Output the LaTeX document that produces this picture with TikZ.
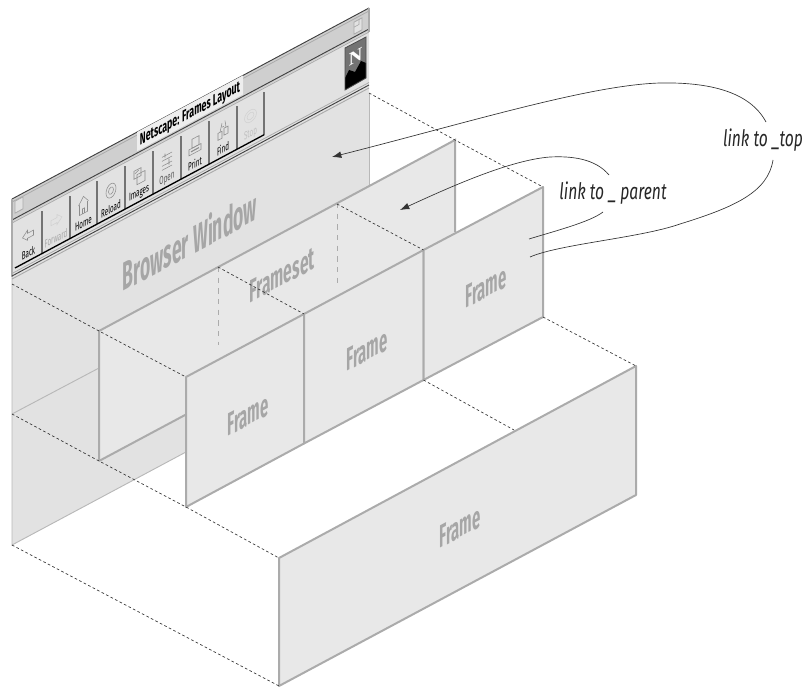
\documentclass[tikz,border=0pt]{standalone}
\usepackage{fontspec}
\usetikzlibrary{arrows.meta}
\setmainfont{Fira Sans}
\newfontfamily\nfont{Liberation Serif}
\definecolor{winfill}{HTML}{E2E2E2}
\definecolor{panfill}{HTML}{E8E8E8}
\definecolor{edge}{HTML}{ABABAB}
\definecolor{lbl}{HTML}{A6A6A6}
\definecolor{stripe}{HTML}{CFCFCF}
\tikzset{
  skew/.style={yslant=0.535,transform shape,inner sep=0pt},
  skewscope/.style={cm={1,0.535,0,1,(0,0)}},
  panel/.style={fill=panfill,draw=edge,line width=1.5pt,line join=round},
  winedge/.style={draw=edge!85,line width=0.7pt},
  dotline/.style={draw=black!80,line width=0.5pt,dash pattern=on 2pt off 1.8pt},
  greydash/.style={draw=edge,line width=0.7pt,dash pattern=on 4pt off 4pt},
  framel/.style={skew,xscale=0.465,text=lbl,font=\bfseries\fontsize{24}{25}\selectfont},
  lnkl/.style={inner sep=0pt,xscale=0.69,transform shape,text=black!85,font=\itshape\fontsize{17}{18}\selectfont},
  curve/.style={draw=black!80,line width=0.5pt},
  arrowc/.style={curve,-{Latex[length=7pt,width=5pt]}},
  icon/.style={draw=black!45,line width=0.4pt,fill=none},
  iconl/.style={draw=black!18,line width=0.4pt,fill=none},
  btnl/.style={skew,xscale=0.55,font=\fontsize{8.5}{9}\selectfont},
  dbl/.style={draw=black!75,line width=0.7pt}
}
\begin{document}
\begin{tikzpicture}[x=0.75pt,y=-0.75pt]
\useasboundingbox (0,0) rectangle (806,688);
% browser window sheet
\fill[winfill] (12,199) -- (369,8) -- (369,354) -- (12,545) -- cycle;
\draw[winedge] (369,93) -- (369,186);
\draw[winedge] (12,277) -- (12,545) -- (186,452);
\draw[winedge] (12,414) -- (99,368);
% title bar
\fill[stripe] (12,199) -- (369,8) -- (369,31) -- (12,222) -- cycle;
\draw[dbl] (12,199) -- (369,8);
\draw[edge,line width=0.6pt] (12,202) -- (369,11);
\draw[dbl] (12,220) -- (369,29);
\draw[edge,line width=0.6pt] (12,223) -- (369,32);
\draw[edge,line width=1pt] (369,8) -- (369,32) (12,199) -- (12,277);
% title
\fill[winfill!60!white] (137,132.1) -- (243,75.4) -- (243,94.4) -- (137,151.1) -- cycle;
\node[skew,xscale=0.55,font=\bfseries\fontsize{12}{13}\selectfont,text=black] (title) at (190,114.5) {Netscape: Frames Layout};
% window gadgets
\begin{scope}[shift={(19,204)},skewscope]
\draw[edge,fill=winfill,line width=0.6pt] (-4,-5) rectangle (4,7);
\end{scope}
\begin{scope}[shift={(358,25)},skewscope]
\draw[edge,fill=winfill,line width=0.6pt] (-4,-5) rectangle (4,7);
\draw[edge,line width=0.5pt] (-4,0) -- (1,0) -- (1,-5);
\end{scope}
% content separator lines
\draw[edge,line width=0.6pt] (12,273.5) -- (369,82.5);
\draw[dbl] (12,276) -- (369,85);
\draw[edge,line width=0.7pt] (12,279) -- (369,88);
% toolbar
\foreach \xa/\xb/\txt/\tc/\kind in {15/42/Back/black/0,42/70/Forward/black!35/1,70/97/Home/black/2,97/125/Reload/black/3,125/153/Images/black/4,153/181/Open/black!65/5,181/209/Print/black/6,209/237/Find/black/7,237/264/Stop/black!25/8}{
  \pgfmathsetmacro{\yb}{268-0.535*(\xb-15)}
  \pgfmathsetmacro{\ya}{268-0.535*(\xa-15)}
  \pgfmathsetmacro{\xm}{(\xa+\xb)/2}
  \pgfmathsetmacro{\ym}{268-0.535*(\xm-15)}
  \draw[black!55,line width=0.8pt] (\xb,\yb) -- (\xb,\yb-43);
  \draw[black,line width=1pt] (\xa,\ya) -- (\xb,\yb);
  \node[btnl,text=\tc] (b\kind) at (\xm,\ym-8) {\txt};
  \begin{scope}[shift={(\xm,\ym-26)},skewscope]
    \ifcase\kind
      \draw[icon] (-6,0) -- (-1,-5) -- (-1,-2) -- (5,-2) -- (5,3) -- (-1,3) -- (-1,5) -- cycle;
    \or
      \draw[iconl] (6,0) -- (1,-5) -- (1,-2) -- (-5,-2) -- (-5,3) -- (1,3) -- (1,5) -- cycle;
    \or
      \draw[icon] (-5,-2) -- (0,-9) -- (5,-2) (-4,-2) -- (-4,8) -- (4,8) -- (4,-2) (-1,8) -- (-1,3) -- (1,3) -- (1,8);
    \or
      \draw[icon] (0,0) ellipse (5 and 7); \draw[icon] (0,0) ellipse (2.5 and 3.5);
    \or
      \draw[icon] (-5,-7) rectangle (2,1); \draw[icon] (-2,-2) rectangle (6,8); \draw[icon] (-4,-4) -- (0,-6);
    \or
      \draw[icon] (-5,-6) -- (5,-6) (-5,-2) -- (5,-2) (-5,3) -- (5,3) (-5,7) -- (5,7) (-2,-8) -- (-2,-4) (2,-1) -- (2,5);
    \or
      \draw[icon] (-3,-8) rectangle (4,1); \draw[icon] (-6,1) rectangle (6,7); \draw[icon,line width=0.8pt] (-4,4) -- (4,4);
    \or
      \draw[icon] (-5,0) rectangle (-1,7); \draw[icon] (1,-2) rectangle (5,5); \draw[icon] (-3,0) -- (-1,-8) (3,-2) -- (2,-9) (-1,-4) -- (1,-4);
    \else
      \draw[iconl] (0,0) circle (6); \draw[iconl] (0,0) circle (3.5);
    \fi
  \end{scope}
}
% logo
\fill[black!55] (345,48) -- (366,37) -- (366,78) -- (345,90) -- cycle;
\fill[black] (345,78) -- (349,70) -- (355,72) -- (361,61) -- (366,63) -- (366,78) -- (345,90) -- cycle;
\draw[black!70,line width=0.6pt] (345,48) -- (366,37) -- (366,78) -- (345,90) -- cycle;
\node[skew,text=white,font=\nfont\bfseries\fontsize{14}{14}\selectfont] (logo) at (355.5,57) {N};
% Browser window label
\node[skew,xscale=0.44,text=lbl,font=\bfseries\fontsize{30}{31}\selectfont] (bw) at (190,240) {Browser Window};
% frameset panel
\fill[panfill] (99,331) -- (455,140) -- (455,270) -- (99,461) -- cycle;
\draw[edge,line width=1.5pt] (99,461) -- (99,331) -- (455,140) -- (455,232);
\draw[edge,line width=1.5pt] (99,461) -- (186,414.5);
\draw[greydash] (218,267) -- (218,345);
\draw[greydash] (337,203) -- (337,283);
\node[framel,xscale=1.05] (fs) at (282,275) {Frameset};
% middle frames
\draw[panel] (186,377) -- (304,314) -- (304,443.5) -- (186,507) -- cycle;
\draw[panel] (304,314) -- (423.5,250) -- (423.5,380) -- (304,443.5) -- cycle;
\draw[panel] (423.5,250) -- (543,187) -- (543,317) -- (423.5,380) -- cycle;
\node[framel] (f1) at (248,415) {Frame};
\node[framel] (f2) at (367,350) {Frame};
\node[framel] (f3) at (486,287) {Frame};
% front frame
\draw[panel] (279,558) -- (636,366) -- (636,495) -- (279,686) -- cycle;
\node[framel] (f4) at (460,527) {Frame};
% dashed connectors
\coordinate (wa) at (12,284); \coordinate (pa) at (99,331); \coordinate (fa) at (186,377);
\coordinate (wb) at (12,414); \coordinate (pb) at (99,461); \coordinate (fb) at (186,507); \coordinate (ga) at (279,558);
\coordinate (wc) at (12,545); \coordinate (gb) at (279,686);
\coordinate (wd) at (369,93); \coordinate (pd) at (455,140); \coordinate (fd) at (543,187);
\coordinate (fe) at (543,317); \coordinate (ge) at (636,366);
\coordinate (ff) at (423.5,380); \coordinate (gf) at (514,430);
\coordinate (pm) at (218,267); \coordinate (fm) at (304,314);
\coordinate (pn) at (337,204); \coordinate (fn) at (423.5,250);
\draw[dotline] (wa) -- (pa) -- (fa);
\draw[dotline] (wb) -- (pb) -- (fb) -- (ga);
\draw[dotline] (wc) -- (gb);
\draw[dotline] (wd) -- (pd) -- (fd);
\draw[dotline] (fe) -- (ge);
\draw[dotline] (ff) -- (gf);
\draw[dotline] (pm) -- (fm);
\draw[dotline] (pn) -- (fn);
% links
\node[lnkl] (ltop) at (763,140) {link to \_top};
\node[lnkl] (lpar) at (613,193) {link to \_ parent};
\coordinate (ta) at (332,157); \coordinate (tb) at (530,257);
\coordinate (pc) at (400,210); \coordinate (pe) at (529,239);
\draw[curve] (tb) .. controls (560,244) and (640,238) .. (680,224) .. controls (735,207) and (768,192) .. (773,160);
\draw[arrowc] (766,122) .. controls (750,92) and (710,82) .. (660,83) .. controls (590,85) and (470,122) .. (ta);
\draw[curve] (pe) .. controls (555,231) and (590,222) .. (603,212);
\draw[arrowc] (609,175) .. controls (595,158) and (570,156) .. (550,157) .. controls (510,160) and (450,187) .. (pc);
\end{tikzpicture}
\end{document}
